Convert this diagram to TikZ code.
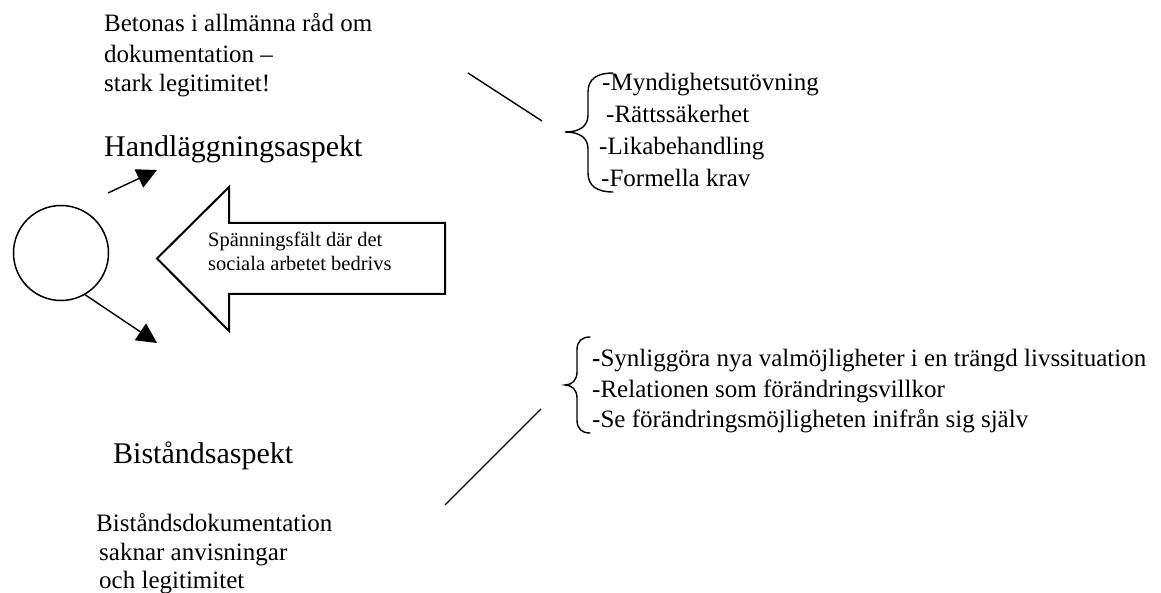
\documentclass[tikz,border=0pt]{standalone}
\usepackage{fontspec}
\setmainfont{Liberation Serif}
\usetikzlibrary{arrows.meta}
\begin{document}
\begin{tikzpicture}[x=1pt,y=-1pt,
  txt/.style={anchor=base west, inner sep=0pt, font=\fontsize{25}{30}\selectfont},
  headline/.style={anchor=base west, inner sep=0pt, font=\fontsize{30}{36}\selectfont},
  smalltxt/.style={anchor=base west, inner sep=0pt, font=\fontsize{20.5}{24}\selectfont},
  conn/.style={line width=1.4pt},
  pointer/.style={line width=1.4pt, -{Triangle[length=20pt,width=20pt]}},
  bracepath/.style={line width=1.4pt, line cap=round},
  blockarrow/.style={line width=2pt, line join=miter}]
\useasboundingbox (0,0) rectangle (1161,593);

% the person in the centre of the tension field
\node[draw, circle, minimum size=95pt, inner sep=0pt, line width=1.5pt] (self) at (61,253) {};

% upper aspect
\node[txt] (bet1) at (104,32) {Betonas i allmänna råd om};
\node[txt] (bet2) at (104,63) {dokumentation –};
\node[txt] (bet3) at (104,92) {stark legitimitet!};
\node[headline] (handl) at (104,157) {Handläggningsaspekt};

% lower aspect
\node[headline] (bist) at (113,463) {Biståndsaspekt};
\node[txt] (bd1) at (96,531) {Biståndsdokumentation};
\node[txt] (bd2) at (99,560) {saknar anvisningar};
\node[txt] (bd3) at (99,588) {och legitimitet};

% arrows from the person towards the two aspects
\coordinate (upstart) at (108,193);
\coordinate (upend) at (157,170);
\coordinate (downend) at (157,343);
\draw[pointer] (upstart) -- (upend);
\draw[pointer] (self.-60) -- (downend);

% block arrow pointing at the person
\draw[blockarrow] (157,258.5) -- (229,187) -- (229,223) -- (445,223)
  -- (445,294) -- (229,294) -- (229,331) -- cycle;
\node[smalltxt] (field1) at (208,247) {Spänningsfält där det};
\node[smalltxt] (field2) at (208,271) {sociala arbetet bedrivs};

% upper list with its brace
\coordinate (ul1) at (468,73);
\coordinate (ul2) at (542,121);
\draw[conn] (ul1) -- (ul2);
\draw[bracepath] (613,73) .. controls (597,73) and (588,79) .. (588,92)
  -- (588,115) .. controls (588,126) and (580,132) .. (565,132)
  .. controls (580,132) and (588,138) .. (588,149)
  -- (588,173) .. controls (588,186) and (597,192) .. (613,192);
\node[txt] (m1) at (602,91) {-Myndighetsutövning};
\node[txt] (m2) at (606,123) {-Rättssäkerhet};
\node[txt] (m3) at (599,155) {-Likabehandling};
\node[txt] (m4) at (601,187) {-Formella krav};

% lower list with its brace
\coordinate (ll1) at (445,505);
\coordinate (ll2) at (541,409);
\draw[conn] (ll1) -- (ll2);
\draw[bracepath] (590,337) .. controls (582,337) and (577,341) .. (577,350)
  -- (577,372) .. controls (577,380) and (572,385) .. (565,385)
  .. controls (572,385) and (577,390) .. (577,398)
  -- (577,420) .. controls (577,429) and (582,433) .. (590,433);
\node[txt] (s1) at (592,366) {\textbf{-}Synliggöra nya valmöjligheter i en trängd livssituation};
\node[txt] (s2) at (592,397) {-Relationen som förändringsvillkor};
\node[txt] (s3) at (592,427) {-Se förändringsmöjligheten inifrån sig själv};
\end{tikzpicture}
\end{document}
